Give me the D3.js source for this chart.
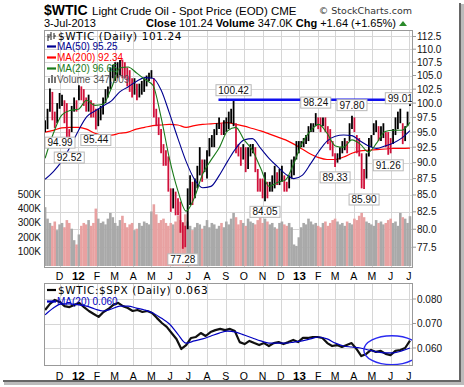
<!DOCTYPE html>
<html><head><meta charset="utf-8">
<script src="https://cdn.jsdelivr.net/npm/d3@7"></script>
<style>body{margin:0;background:#fff}svg{display:block}</style>
</head><body>
<script>
// ---------- DATA ----------
const priceStart = new Date(2011, 10, 7);   // first bar, every 4 calendar days
const priceHigh = [97.0,99.0,102.6,102.0,98.5,100.0,101.8,101.5,100.5,100.0,
 95.5,99.5,101.0,100.5,103.2,103.0,102.5,101.0,101.5,100.5,
 100.0,99.0,99.0,99.5,101.0,102.5,103.0,106.5,107.0,107.5,
 107.5,107.9,108.0,107.5,106.5,106.0,104.5,104.5,103.5,103.5,
 104.0,104.5,105.0,105.5,106.0,104.5,99.0,97.5,95.5,93.0,
 92.0,91.0,86.0,86.0,85.5,84.5,84.0,81.0,80.5,86.0,
 88.0,87.0,87.5,89.5,92.5,90.5,90.5,92.0,94.0,94.5,
 95.5,96.5,97.5,96.5,97.0,97.5,98.5,99.0,100.42,96.5,
 93.0,92.5,93.0,92.5,92.5,93.0,93.0,92.5,89.0,87.5,
 87.5,88.5,87.0,87.0,88.0,89.5,88.5,89.0,89.5,88.0,
 87.0,88.0,90.5,91.0,93.5,93.5,93.5,94.0,94.5,96.0,
 96.5,96.5,98.24,97.5,97.5,97.5,97.5,96.0,95.5,93.5,
 91.5,91.5,92.5,93.5,94.0,93.5,96.5,97.8,97.5,94.5,
 94.0,91.5,89.0,91.5,94.0,94.5,96.5,97.0,96.0,96.0,
 96.5,95.0,95.0,94.0,95.5,97.5,98.5,99.01,96.5,96.0,
 98.5,101.9];
const priceLow = [95.0,95.5,98.5,97.0,95.7,96.5,99.0,99.5,96.5,94.0,
 92.52,95.0,98.5,98.5,100.5,100.5,99.5,98.5,98.5,97.5,
 97.5,95.44,96.0,97.0,98.0,100.0,101.0,102.5,104.5,104.0,
 104.5,105.0,104.5,104.5,103.0,102.0,101.0,101.5,100.5,101.0,
 101.5,102.0,103.0,104.0,104.5,97.5,96.0,94.5,91.5,89.5,
 89.5,85.5,82.5,83.0,82.0,82.0,79.5,77.28,77.5,80.0,
 83.5,83.5,84.5,86.0,88.0,87.0,88.5,87.5,91.0,92.5,
 92.5,94.5,95.5,94.5,94.5,95.0,95.5,96.5,96.0,91.5,
 91.0,89.5,90.5,88.5,89.0,91.0,91.5,88.5,85.5,85.5,
 84.5,84.05,84.5,85.5,85.5,86.0,86.5,86.5,87.0,85.5,
 85.5,86.0,87.5,88.0,90.5,91.5,92.5,92.5,93.0,93.5,
 95.0,95.0,96.0,95.5,95.0,96.0,95.0,93.0,92.0,91.0,
 89.33,90.0,90.5,91.5,92.0,91.5,93.5,95.5,95.0,91.5,
 91.0,86.0,85.9,87.5,91.0,92.5,94.5,95.0,93.5,93.5,
 94.0,92.5,91.26,91.5,93.0,94.5,95.5,96.5,93.0,93.5,
 96.0,99.5];
const volumeK = [410,330,300,280,310,250,290,300,270,320,
 300,260,180,150,220,280,300,290,320,280,
 300,400,330,300,310,290,330,370,340,300,
 280,320,350,300,270,290,300,250,260,300,
 280,310,300,290,380,430,360,300,320,330,
 300,280,300,290,310,350,320,300,360,310,
 280,250,270,300,290,260,280,320,270,300,
 290,260,280,300,270,310,290,330,370,340,
 290,320,300,280,330,310,300,290,320,340,
 300,330,310,290,300,270,260,300,310,290,
 280,300,270,150,140,200,270,300,290,330,
 310,290,300,280,270,300,310,280,300,320,
 330,310,290,300,280,310,300,290,330,320,
 350,370,340,310,300,290,280,320,300,310,
 290,300,320,330,300,310,280,370,340,330,
 300,347];
// moving averages: 45 evenly spaced samples, 7-Nov-2011 .. 3-Jul-2013
const ma50 = [87.4,88.6,90.2,92.5,95.2,97.6,98.6,99.5,100.4,102.0,
 102.9,103.9,104.6,104.5,102.3,98.2,94.0,90.2,87.4,86.1,
 86.3,88.0,90.2,92.3,93.7,93.9,92.3,90.7,89.4,88.2,
 87.5,88.0,89.8,91.8,93.5,94.3,94.5,94.4,93.5,92.7,
 92.3,92.7,93.2,94.0,95.25];
const ma200 = [95.0,95.3,95.7,95.8,95.8,95.5,94.8,94.5,94.5,94.8,
 95.0,95.5,95.8,96.1,96.2,96.3,96.2,95.8,96.1,96.3,
 96.4,96.5,96.6,96.3,96.0,95.6,95.2,94.7,94.2,93.7,
 93.0,92.2,91.4,90.8,90.5,90.5,90.9,91.5,91.9,92.0,
 92.1,92.2,92.3,92.3,92.34];
const ma20 = [90.7,94.8,97.9,98.7,98.9,100.5,99.6,99.8,102.7,106.4,
 106.6,105.5,104.3,103.2,97.4,90.6,85.7,82.6,84.6,88.2,
 90.4,92.4,95.2,95.8,93.7,92.0,89.1,86.3,86.9,87.3,
 89.9,93.2,95.2,96.3,94.8,92.7,92.5,93.7,93.0,91.7,
 93.2,95.1,95.3,95.3,96.65];
// $WTIC:$SPX ratio: 76 evenly spaced samples, 7-Nov-2011 .. 3-Jul-2013
const ratio = [0.0755,0.0780,0.0796,0.0788,0.0771,0.0767,0.0776,0.0784,0.0767,0.0751,
 0.0739,0.0727,0.0747,0.0759,0.0776,0.0784,0.0771,0.0763,0.0751,0.0755,
 0.0747,0.0751,0.0743,0.0722,0.0702,0.0686,0.0661,0.0637,0.0596,0.0612,
 0.0641,0.0645,0.0661,0.0649,0.0665,0.0673,0.0678,0.0673,0.0678,0.0669,
 0.0624,0.0616,0.0629,0.0620,0.0612,0.0620,0.0608,0.0620,0.0624,0.0616,
 0.0624,0.0633,0.0624,0.0641,0.0641,0.0645,0.0645,0.0641,0.0620,0.0608,
 0.0612,0.0604,0.0612,0.0620,0.0596,0.0567,0.0576,0.0592,0.0584,0.0588,
 0.0576,0.0571,0.0588,0.0592,0.0600,0.0630];
const ratioMA20 = [0.0735,0.0763,0.0780,0.0780,0.0776,0.0771,0.0759,0.0751,0.0759,0.0771,
 0.0771,0.0763,0.0755,0.0743,0.0722,0.0698,0.0657,0.0620,0.0629,0.0637,
 0.0649,0.0661,0.0669,0.0665,0.0653,0.0641,0.0629,0.0620,0.0620,0.0620,
 0.0624,0.0629,0.0637,0.0645,0.0637,0.0620,0.0608,0.0604,0.0600,0.0592,
 0.0584,0.0580,0.0580,0.0588,0.0600];
const priceTicks = [77.5,80.0,82.5,85.0,87.5,90.0,92.5,95.0,97.5,100.0,102.5,105.0,107.5,110.0,112.5];
const volTicks = [100,200,300,400,500];
const ratioTicks = [0.060,0.070,0.080];
const monthLabels = ["D","12","F","M","A","M","J","J","A","S","O","N","D","13","F","M","A","M","J","J"];
const annotations = [
 {t:"94.99", i:0, v:94.99, pos:"below"}, {t:"92.52", i:10, v:92.52, pos:"below"},
 {t:"95.44", i:21, v:95.44, pos:"below"}, {t:"100.42", i:78, v:100.42, pos:"above"},
 {t:"77.28", i:57, v:77.28, pos:"below"}, {t:"84.05", i:91, v:84.05, pos:"below"},
 {t:"98.24", i:112, v:98.24, pos:"above"}, {t:"89.33", i:120, v:89.33, pos:"below"},
 {t:"97.80", i:127, v:97.80, pos:"above"}, {t:"85.90", i:132, v:85.90, pos:"below"},
 {t:"91.26", i:142, v:91.26, pos:"below"}, {t:"99.01", i:147, v:99.01, pos:"above"}];
const trendLine = {from:new Date(2012,7,20), to:new Date(2013,6,8), level:100.6};
const ellipseNote = {date:new Date(2013,5,3), value:0.0591};

// ---------- LAYOUT ----------
const W = 464, H = 387;
const M = {l:44, r:413, t:30, b:268};
const Lp = {l:44, r:413, t:283, b:366};
const endDate = new Date(2013, 6, 3);
const x = d3.scaleTime().domain([new Date(2011,10,6), new Date(2013,6,8)]).range([44.5, 413]);
const y = d3.scaleLog().domain([74.7, 113.8]).range([M.b, M.t]);
const yv = d3.scaleLinear().domain([0, 500]).range([266, 194.25]);
const yr = d3.scaleLinear().domain([0.060, 0.080]).range([348, 299]);

const priceDates = priceHigh.map((_, i) => d3.timeDay.offset(priceStart, 4 * i));
const spread = n => d3.range(n).map(k => new Date(+priceStart + k * (endDate - priceStart) / (n - 1)));
const maDates = spread(ma50.length);
const ratioDates = spread(ratio.length);
const months = d3.timeMonth.range(new Date(2011,11,1), new Date(2013,6,2));

const SANS = "'Liberation Sans', Arial, sans-serif";
const WIDE = "'DejaVu Sans', Verdana, sans-serif";
const svg = d3.select("body").append("svg").attr("width", W).attr("height", H).style("font-family", SANS);

// frame shadow
svg.append("rect").attr("x",459).attr("y",3).attr("width",2).attr("height",379).attr("fill","#666");
svg.append("rect").attr("x",461).attr("y",4).attr("width",3).attr("height",379).attr("fill","#bbb");
svg.append("rect").attr("x",3).attr("y",380).attr("width",458).attr("height",2).attr("fill","#666");
svg.append("rect").attr("x",4).attr("y",382).attr("width",460).attr("height",3).attr("fill","#bbb");

const defs = svg.append("defs");
defs.append("clipPath").attr("id","cm").append("rect").attr("x",M.l).attr("y",M.t).attr("width",M.r-M.l).attr("height",M.b-M.t);
defs.append("clipPath").attr("id","cl").append("rect").attr("x",Lp.l).attr("y",Lp.t).attr("width",Lp.r-Lp.l).attr("height",Lp.b-Lp.t);

// ---------- HEADER ----------
svg.append("text").attr("x",44).attr("y",15).attr("font-size",14).attr("font-weight","bold").text("$WTIC");
svg.append("text").attr("x",92).attr("y",14.5).attr("font-size",11.5).text("Light Crude Oil - Spot Price (EOD) CME");
svg.append("text").attr("x",412).attr("y",14).attr("text-anchor","end").attr("fill","#333")
  .attr("font-family",WIDE).attr("font-size",9.5).text("© StockCharts.com");
svg.append("text").attr("x",44).attr("y",27).attr("font-size",11).text("3-Jul-2013");
const info = svg.append("text").attr("x",396).attr("y",27).attr("text-anchor","end").attr("font-size",11);
[["Close",1],[" 101.24 ",0],["Volume",1],[" 347.0K ",0],["Chg",1],[" +1.64 (+1.65%)",0]].forEach(([s,b]) =>
  info.append("tspan").attr("font-weight", b ? "bold" : null).text(s));
svg.append("path").attr("d","M399,26 L407,26 L403,21 Z").attr("fill","#2a8a2a");

// ---------- MAIN PANEL ----------
const gm = svg.append("g");
gm.append("rect").attr("x",M.l).attr("y",M.t).attr("width",M.r-M.l).attr("height",M.b-M.t).attr("fill","#fff");
gm.selectAll(".hg").data(priceTicks).join("line").attr("x1",M.l).attr("x2",M.r)
  .attr("y1",d=>Math.round(y(d))+0.5).attr("y2",d=>Math.round(y(d))+0.5).attr("stroke","#d6d6d6");
gm.selectAll(".vg").data(months).join("line").attr("y1",M.t).attr("y2",M.b)
  .attr("x1",d=>Math.round(x(d))+0.5).attr("x2",d=>Math.round(x(d))+0.5).attr("stroke","#d6d6d6");

const mid = i => (priceHigh[i] + priceLow[i]) / 2;
const isUp = i => i === 0 ? true : mid(i) >= mid(i - 1);
const clipM = gm.append("g").attr("clip-path","url(#cm)");
// volume
clipM.selectAll(".vol").data(volumeK).join("rect")
  .attr("x",(d,i)=>x(priceDates[i])-1.3).attr("width",2.6)
  .attr("y",d=>yv(d)).attr("height",d=>yv(0)-yv(d))
  .attr("fill",(d,i)=>isUp(i) ? "#a9a9a9" : "#e8a1a1");
// MA 200
const lineP = dates => d3.line().x((d,i)=>x(dates[i])).y(d=>y(d)).curve(d3.curveMonotoneX);
clipM.append("path").datum(ma200).attr("d",lineP(maDates)).attr("fill","none").attr("stroke","#ff0000").attr("stroke-width",1.2);
// price bars
clipM.selectAll(".bar").data(priceHigh).join("line")
  .attr("x1",(d,i)=>x(priceDates[i])).attr("x2",(d,i)=>x(priceDates[i]))
  .attr("y1",(d,i)=>y(priceLow[i])).attr("y2",d=>y(d))
  .attr("stroke",(d,i)=>isUp(i) ? "#000" : "#d0103a").attr("stroke-width",1.8);
clipM.append("path").datum(ma50).attr("d",lineP(maDates)).attr("fill","none").attr("stroke","#000090").attr("stroke-width",1.1);
clipM.append("path").datum(ma20).attr("d",lineP(maDates)).attr("fill","none").attr("stroke","#1a7a1a").attr("stroke-width",1.1);
// trend line
clipM.append("line").attr("x1",x(trendLine.from)).attr("x2",x(trendLine.to))
  .attr("y1",y(trendLine.level)).attr("y2",y(trendLine.level)).attr("stroke","#1010ee").attr("stroke-width",2.4);
// annotations
const ag = clipM.append("g").attr("font-size",10);
annotations.forEach(a => {
  const px = x(priceDates[a.i]), py = y(a.v);
  const w = a.t.length * 5.2 + 4, h = 11;
  let bx = Math.max(M.l + 1, px - w / 2);
  const by = a.pos === "below" ? py + 5 : py - 5 - h;
  ag.append("rect").attr("x",bx).attr("y",by).attr("width",w).attr("height",h)
    .attr("fill","#fff").attr("stroke","#b8b8b8").attr("stroke-width",1);
  ag.append("text").attr("x",bx + w/2).attr("y",by + 9).attr("text-anchor","middle").attr("fill","#111").text(a.t);
});
gm.append("rect").attr("x",M.l+0.5).attr("y",M.t+0.5).attr("width",M.r-M.l-1).attr("height",M.b-M.t-1)
  .attr("fill","none").attr("stroke","#999");

// right price axis
const ax = svg.append("g").attr("font-size",10).attr("fill","#111");
priceTicks.forEach(t => {
  ax.append("line").attr("x1",M.r).attr("x2",M.r+3).attr("y1",y(t)).attr("y2",y(t)).attr("stroke","#999");
  ax.append("text").attr("x",M.r+4).attr("y",y(t)+3.5).text(t.toFixed(1));
});
volTicks.forEach(t => ax.append("text").attr("x",41).attr("y",yv(t)+3.5).attr("text-anchor","end").text(t+"K"));

// month labels
const drawMonths = (yy) => months.forEach((m,i) => {
  const lab = monthLabels[i];
  svg.append("text").attr("x",x(m)).attr("y",yy).attr("text-anchor","middle")
    .attr("font-size", lab.length > 1 ? 11.5 : 10.5).attr("font-weight", lab.length > 1 ? "bold" : null).text(lab);
});
drawMonths(280);

// main legend
const lg = svg.append("g").attr("font-size",10);
lg.append("path").attr("d","M48,34 v7 M48,37 h2 M51,32 v8 M51,35 h-2 M54,33 v6 M54,36 h2").attr("stroke","#333").attr("stroke-width",1.1).attr("fill","none");
lg.append("text").attr("x",58).attr("y",39.5).attr("font-family",WIDE).attr("font-size",10.5)
  .attr("letter-spacing",0.6).attr("fill","#000").text("$WTIC (Daily) 101.24");
[["MA(50) 95.25","#000090",50],["MA(200) 92.34","#ff0000",61],["MA(20) 96.65","#1a7a1a",72]].forEach(([s,c,yy]) => {
  lg.append("line").attr("x1",47).attr("x2",56).attr("y1",yy-3.5).attr("y2",yy-3.5).attr("stroke",c).attr("stroke-width",2.2);
  lg.append("text").attr("x",57).attr("y",yy).attr("fill",c).text(s);
});
lg.append("path").attr("d","M48,83 v-5 h2 v5 M51,83 v-8 h2 v8 M54,83 v-6 h2 v6").attr("fill","#777");
lg.append("text").attr("x",57).attr("y",83).attr("fill","#555").text("Volume 347,009");

// ---------- LOWER PANEL ----------
const gl = svg.append("g");
gl.append("rect").attr("x",Lp.l).attr("y",Lp.t).attr("width",Lp.r-Lp.l).attr("height",Lp.b-Lp.t).attr("fill","#fff");
gl.selectAll(".hg").data(ratioTicks).join("line").attr("x1",Lp.l).attr("x2",Lp.r)
  .attr("y1",d=>Math.round(yr(d))+0.5).attr("y2",d=>Math.round(yr(d))+0.5).attr("stroke","#d6d6d6");
gl.selectAll(".vg").data(months).join("line").attr("y1",Lp.t).attr("y2",Lp.b)
  .attr("x1",d=>Math.round(x(d))+0.5).attr("x2",d=>Math.round(x(d))+0.5).attr("stroke","#d6d6d6");
const clipL = gl.append("g").attr("clip-path","url(#cl)");
const lineR = dates => d3.line().x((d,i)=>x(dates[i])).y(d=>yr(d));
clipL.append("path").datum(ratio).attr("d",lineR(ratioDates)).attr("fill","none").attr("stroke","#111").attr("stroke-width",2.2).attr("stroke-linejoin","round");
clipL.append("path").datum(ratioMA20).attr("d",lineR(maDates).curve(d3.curveMonotoneX)).attr("fill","none").attr("stroke","#0000c0").attr("stroke-width",1.2);
clipL.append("ellipse").attr("cx",x(ellipseNote.date)).attr("cy",yr(ellipseNote.value)).attr("rx",28).attr("ry",14.5)
  .attr("fill","none").attr("stroke","#2a2af0").attr("stroke-width",1.4);
gl.append("rect").attr("x",Lp.l+0.5).attr("y",Lp.t+0.5).attr("width",Lp.r-Lp.l-1).attr("height",Lp.b-Lp.t-1)
  .attr("fill","none").attr("stroke","#999");
ratioTicks.forEach(t => {
  ax.append("line").attr("x1",Lp.r).attr("x2",Lp.r+3).attr("y1",yr(t)).attr("y2",yr(t)).attr("stroke","#999");
  ax.append("text").attr("x",Lp.r+4).attr("y",yr(t)+3.5).text(t.toFixed(3));
});
drawMonths(380);
const lg2 = svg.append("g").attr("font-size",10);
lg2.append("line").attr("x1",47).attr("x2",56).attr("y1",290).attr("y2",290).attr("stroke","#000").attr("stroke-width",2.2);
lg2.append("text").attr("x",58).attr("y",293.5).attr("font-family",WIDE).attr("font-size",10.5)
  .attr("letter-spacing",0.6).text("$WTIC:$SPX (Daily) 0.063");
lg2.append("line").attr("x1",47).attr("x2",56).attr("y1",301.5).attr("y2",301.5).attr("stroke","#0000c0").attr("stroke-width",2.2);
lg2.append("text").attr("x",57).attr("y",305).attr("fill","#0000c0").text("MA(20) 0.060");
</script>
</body></html>
